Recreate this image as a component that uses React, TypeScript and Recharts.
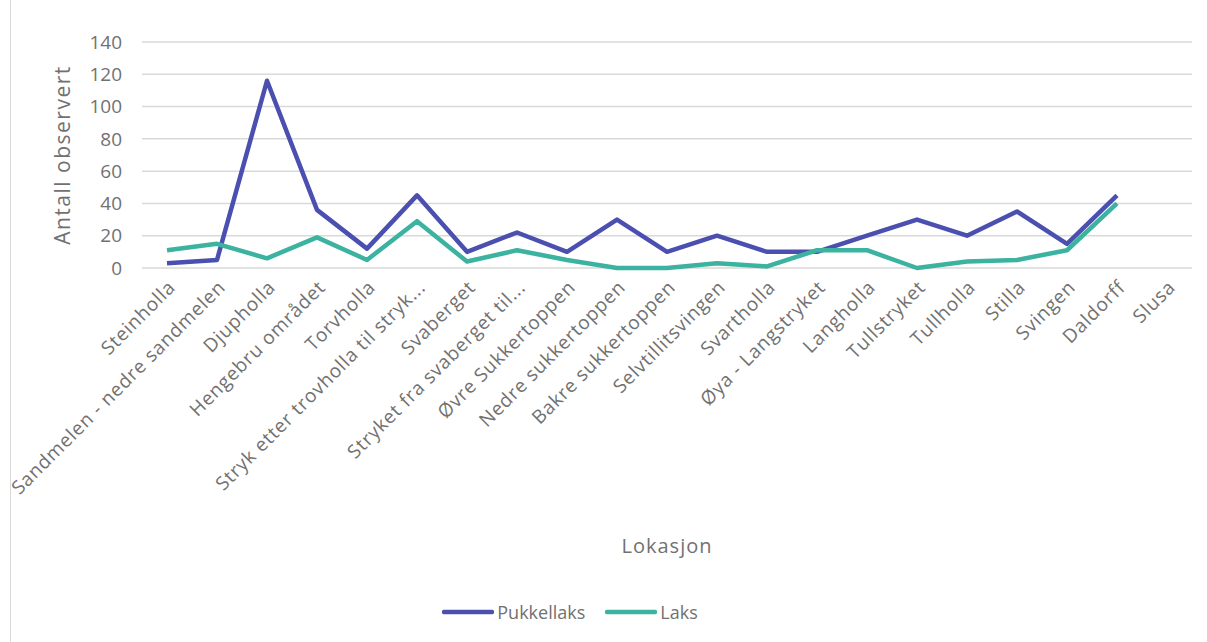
import { LineChart, Line, XAxis, YAxis, CartesianGrid, Legend, Label } from "recharts";

const locations = [
  "Steinholla",
  "Sandmelen - nedre sandmelen",
  "Djupholla",
  "Hengebru området",
  "Torvholla",
  "Stryk etter trovholla til stryk...",
  "Svaberget",
  "Stryket fra svaberget til...",
  "Øvre Sukkertoppen",
  "Nedre sukkertoppen",
  "Bakre sukkertoppen",
  "Selvtillitsvingen",
  "Svartholla",
  "Øya - Langstryket",
  "Langholla",
  "Tullstryket",
  "Tullholla",
  "Stilla",
  "Svingen",
  "Daldorff",
  "Slusa",
];

const pukkellaks = [3, 5, 116, 36, 12, 45, 10, 22, 10, 30, 10, 20, 10, 10, 20, 30, 20, 35, 15, 45, null];
const laks = [11, 15, 6, 19, 5, 29, 4, 11, 5, 0, 0, 3, 1, 11, 11, 0, 4, 5, 11, 40, null];

const yTicks = [0, 20, 40, 60, 80, 100, 120, 140];

const PURPLE = "#4a4fb0";
const TEAL = "#3cb2a0";
const TEXT = "#717171";
const FONT = "'Open Sans', sans-serif";

const data = locations.map((name, i) => ({
  name,
  Pukkellaks: pukkellaks[i],
  Laks: laks[i],
}));

function LegendContent() {
  const items = [
    { label: "Pukkellaks", color: PURPLE },
    { label: "Laks", color: TEAL },
  ];
  return (
    <div
      style={{
        display: "flex",
        justifyContent: "center",
        gap: 20,
        fontFamily: FONT,
        fontSize: 18,
        color: TEXT,
        transform: "translateX(-46px)",
      }}
    >
      {items.map((it) => (
        <div key={it.label} style={{ display: "flex", alignItems: "center" }}>
          <svg width={52} height={10} style={{ marginRight: 3 }}>
            <line x1={2} y1={5} x2={50} y2={5} stroke={it.color} strokeWidth={4.5} strokeLinecap="round" />
          </svg>
          <span>{it.label}</span>
        </div>
      ))}
    </div>
  );
}

export default function App() {
  return (
    <div style={{ position: "absolute", left: 0, top: 0, width: 1207, height: 642, background: "#fff" }}>
      <div style={{ position: "absolute", left: 10, top: 0, width: 1, height: 642, background: "#d9d9d9" }} />
      <LineChart
        width={1207}
        height={642}
        data={data}
        margin={{ top: 42, right: 15, left: 40, bottom: 10 }}
        style={{ fontFamily: FONT }}
      >
        <CartesianGrid vertical={false} stroke="#d9d9d9" strokeWidth={1.5} />
        <XAxis
          dataKey="name"
          interval={0}
          height={332}
          padding={{ left: 25, right: 25 }}
          axisLine={false}
          tickLine={false}
          tickMargin={5}
          angle={-45}
          textAnchor="end"
          tick={{ fontSize: 19, fill: TEXT, letterSpacing: 0.8 }}
        >
          <Label
            value="Lokasjon"
            position="insideBottom"
            offset={47}
            style={{ fontSize: 20, fill: TEXT, letterSpacing: 1 }}
          />
        </XAxis>
        <YAxis
          width={102}
          domain={[0, 140]}
          ticks={yTicks}
          axisLine={false}
          tickLine={false}
          tickMargin={14}
          tick={{ fontSize: 19, fill: TEXT }}
        >
          <Label
            content={({ viewBox }: any) => {
              const cx = viewBox.x + 22;
              const cy = viewBox.y + viewBox.height / 2;
              return (
                <text
                  x={cx}
                  y={cy}
                  transform={`rotate(-90 ${cx} ${cy})`}
                  textAnchor="middle"
                  dominantBaseline="central"
                  fontSize={21}
                  letterSpacing={1.5}
                  fill={TEXT}
                >
                  Antall observert
                </text>
              );
            }}
          />
        </YAxis>
        <Legend verticalAlign="bottom" height={32} content={<LegendContent />} />
        <Line
          type="linear"
          dataKey="Pukkellaks"
          stroke={PURPLE}
          strokeWidth={4.5}
          dot={false}
          strokeLinejoin="round"
          isAnimationActive={false}
        />
        <Line
          type="linear"
          dataKey="Laks"
          stroke={TEAL}
          strokeWidth={4.5}
          dot={false}
          strokeLinejoin="round"
          isAnimationActive={false}
        />
      </LineChart>
    </div>
  );
}
